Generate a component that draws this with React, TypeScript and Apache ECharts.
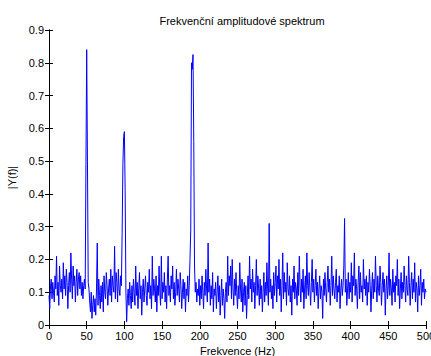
import React, { useEffect, useRef } from 'react';
import * as echarts from 'echarts';

// |Y(f)| amplitude, one value per 1 Hz step
const amp000 = [
  0.09, 0.05, 0.12, 0.14, 0.08, 0.13, 0.10, 0.07, 0.15, 0.11,
  0.21, 0.09, 0.13, 0.06, 0.18, 0.12, 0.10, 0.14, 0.08, 0.19,
  0.11, 0.15, 0.09, 0.17, 0.13, 0.05, 0.12, 0.16, 0.10, 0.22,
  0.14, 0.08, 0.18, 0.12, 0.15, 0.07, 0.13, 0.17, 0.09, 0.14,
  0.16, 0.11, 0.15, 0.09, 0.13, 0.08, 0.12, 0.14, 0.11, 0.49,
];
const amp050 = [
  0.84, 0.50, 0.13, 0.11, 0.07, 0.04, 0.10, 0.02, 0.06, 0.09,
  0.04, 0.08, 0.03, 0.11, 0.25, 0.06, 0.14, 0.09, 0.05, 0.12,
  0.07, 0.13, 0.04, 0.15, 0.10, 0.08, 0.16, 0.12, 0.06, 0.11,
  0.14, 0.09, 0.17, 0.07, 0.15, 0.12, 0.10, 0.24, 0.08, 0.16,
  0.13, 0.07, 0.17, 0.11, 0.09, 0.15, 0.12, 0.28, 0.49, 0.575,
];
const amp100 = [
  0.59, 0.41, 0.10, 0.01, 0.08, 0.11, 0.06, 0.13, 0.09, 0.05,
  0.12, 0.07, 0.14, 0.10, 0.06, 0.18, 0.09, 0.13, 0.05, 0.11,
  0.16, 0.08, 0.12, 0.03, 0.10, 0.14, 0.07, 0.11, 0.15, 0.09,
  0.06, 0.13, 0.10, 0.17, 0.08, 0.12, 0.05, 0.21, 0.09, 0.14,
  0.11, 0.07, 0.15, 0.04, 0.12, 0.09, 0.18, 0.10, 0.06, 0.21,
];
const amp150 = [
  0.08, 0.13, 0.10, 0.16, 0.07, 0.12, 0.05, 0.14, 0.21, 0.09,
  0.12, 0.07, 0.15, 0.11, 0.18, 0.08, 0.13, 0.06, 0.10, 0.17,
  0.09, 0.14, 0.11, 0.07, 0.16, 0.12, 0.05, 0.10, 0.14, 0.08,
  0.13, 0.04, 0.11, 0.09, 0.15, 0.07, 0.12, 0.20, 0.29, 0.80,
  0.78, 0.825, 0.56, 0.18, 0.10, 0.13, 0.07, 0.11, 0.09, 0.14,
];
const amp200 = [
  0.06, 0.12, 0.08, 0.15, 0.10, 0.05, 0.13, 0.09, 0.17, 0.11,
  0.07, 0.25, 0.10, 0.14, 0.06, 0.12, 0.08, 0.16, 0.04, 0.11,
  0.09, 0.13, 0.05, 0.10, 0.15, 0.07, 0.12, 0.03, 0.09, 0.14,
  0.06, 0.11, 0.08, 0.02, 0.10, 0.13, 0.07, 0.21, 0.09, 0.15,
  0.12, 0.18, 0.08, 0.20, 0.11, 0.06, 0.14, 0.09, 0.16, 0.10,
];
const amp250 = [
  0.05, 0.12, 0.08, 0.19, 0.11, 0.07, 0.14, 0.04, 0.10, 0.13,
  0.06, 0.12, 0.02, 0.09, 0.15, 0.08, 0.21, 0.11, 0.14, 0.07,
  0.17, 0.10, 0.13, 0.05, 0.12, 0.20, 0.09, 0.15, 0.11, 0.06,
  0.14, 0.08, 0.12, 0.04, 0.10, 0.16, 0.07, 0.13, 0.09, 0.19,
  0.11, 0.06, 0.31, 0.10, 0.14, 0.08, 0.12, 0.05, 0.16, 0.09,
];
const amp300 = [
  0.13, 0.18, 0.07, 0.15, 0.11, 0.20, 0.09, 0.14, 0.04, 0.12,
  0.22, 0.08, 0.16, 0.10, 0.13, 0.06, 0.19, 0.11, 0.09, 0.15,
  0.07, 0.12, 0.03, 0.14, 0.10, 0.18, 0.08, 0.13, 0.11, 0.06,
  0.16, 0.09, 0.21, 0.12, 0.07, 0.14, 0.10, 0.17, 0.05, 0.11,
  0.15, 0.08, 0.22, 0.12, 0.09, 0.16, 0.11, 0.06, 0.13, 0.20,
];
const amp350 = [
  0.10, 0.14, 0.07, 0.12, 0.17, 0.09, 0.13, 0.05, 0.11, 0.15,
  0.08, 0.12, 0.10, 0.02, 0.14, 0.09, 0.16, 0.11, 0.07, 0.13,
  0.18, 0.10, 0.14, 0.06, 0.12, 0.21, 0.09, 0.15, 0.11, 0.08,
  0.13, 0.17, 0.07, 0.12, 0.10, 0.15, 0.05, 0.11, 0.14, 0.09,
  0.12, 0.18, 0.325, 0.10, 0.14, 0.06, 0.11, 0.16, 0.08, 0.13,
];
const amp400 = [
  0.10, 0.19, 0.07, 0.15, 0.12, 0.22, 0.09, 0.14, 0.11, 0.05,
  0.13, 0.18, 0.08, 0.16, 0.10, 0.12, 0.07, 0.20, 0.11, 0.14,
  0.09, 0.15, 0.06, 0.13, 0.10, 0.17, 0.12, 0.04, 0.11, 0.16,
  0.08, 0.14, 0.10, 0.21, 0.12, 0.07, 0.15, 0.11, 0.09, 0.18,
  0.13, 0.06, 0.12, 0.16, 0.10, 0.14, 0.03, 0.11, 0.15, 0.08,
];
const amp450 = [
  0.12, 0.22, 0.09, 0.14, 0.11, 0.06, 0.17, 0.10, 0.13, 0.07,
  0.15, 0.12, 0.20, 0.09, 0.14, 0.05, 0.11, 0.16, 0.08, 0.13,
  0.10, 0.18, 0.12, 0.07, 0.15, 0.11, 0.09, 0.21, 0.13, 0.06,
  0.12, 0.16, 0.08, 0.14, 0.10, 0.19, 0.07, 0.13, 0.11, 0.04,
  0.15, 0.09, 0.12, 0.17, 0.06, 0.13, 0.10, 0.14, 0.08, 0.11,
  0.10,
];

const freqStepHz = 1;
const xTicks = { min: 0, max: 500, interval: 50 };
const yTicks = { min: 0, max: 0.9, interval: 0.1 };

const titleText = 'Frekvenční amplitudové spektrum';
const xName = 'Frekvence (Hz)';
const yName = '|Y(f)|';

const FONT = '"Liberation Sans", Arial, sans-serif';

export default function App() {
  const ref = useRef<HTMLDivElement>(null);

  useEffect(() => {
    document.body.style.margin = '0';
    if (!ref.current) return;
    const chart = echarts.init(ref.current, null, { renderer: 'svg' });

    const amps = [
      ...amp000, ...amp050, ...amp100, ...amp150, ...amp200,
      ...amp250, ...amp300, ...amp350, ...amp400, ...amp450,
    ];
    const data = amps.map((v, i) => [i * freqStepHz, v]);

    const axisLine = { show: true, lineStyle: { color: '#000', width: 1 } };
    const axisTick = { show: true, inside: true, length: 4, lineStyle: { color: '#000', width: 1 } };
    const labelStyle = { color: '#000', fontSize: 11, fontFamily: FONT };

    chart.setOption({
      animation: false,
      backgroundColor: '#fff',
      title: {
        text: titleText,
        left: 237,
        textAlign: 'center',
        top: 10,
        textStyle: { color: '#000', fontSize: 11, fontWeight: 'normal', fontFamily: FONT },
      },
      grid: {
        left: 49,
        right: 5,
        top: 30,
        bottom: 31,
        containLabel: false,
        outerBoundsMode: 'none',
      },
      xAxis: [
        {
          type: 'value',
          position: 'bottom',
          ...xTicks,
          axisLine,
          axisTick,
          splitLine: { show: false },
          axisLabel: { ...labelStyle, margin: 5 },
          name: xName,
          nameLocation: 'middle',
          nameGap: 19,
          nameTextStyle: { ...labelStyle },
        },
        {
          type: 'value',
          position: 'top',
          ...xTicks,
          axisLine,
          axisTick,
          splitLine: { show: false },
          axisLabel: { show: false },
        },
      ],
      yAxis: [
        {
          type: 'value',
          position: 'left',
          ...yTicks,
          axisLine,
          axisTick,
          splitLine: { show: false },
          axisLabel: {
            ...labelStyle,
            margin: 5,
            formatter: (v: number) => (v === 0 ? '0' : v.toFixed(1)),
          },
          name: yName,
          nameLocation: 'middle',
          nameGap: 22,
          nameTextStyle: { ...labelStyle },
        },
        {
          type: 'value',
          position: 'right',
          ...yTicks,
          axisLine,
          axisTick,
          splitLine: { show: false },
          axisLabel: { show: false },
        },
      ],
      series: [
        {
          type: 'line',
          xAxisIndex: 0,
          yAxisIndex: 0,
          data,
          showSymbol: false,
          symbol: 'none',
          lineStyle: { color: '#0000ff', width: 1 },
          silent: true,
        },
      ],
    });

    return () => chart.dispose();
  }, []);

  return <div ref={ref} style={{ width: 431, height: 356 }} />;
}
